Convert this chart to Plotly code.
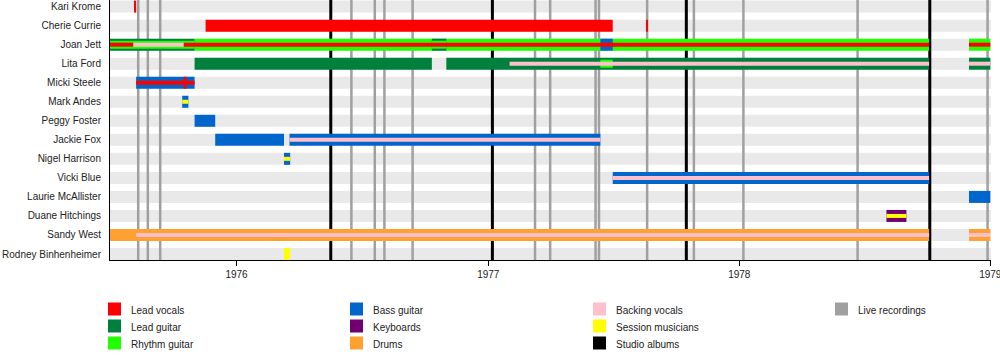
import pandas as pd
import plotly.graph_objects as go

# ---------------- data ----------------
members = ["Kari Krome", "Cherie Currie", "Joan Jett", "Lita Ford", "Micki Steele",
           "Mark Andes", "Peggy Foster", "Jackie Fox", "Nigel Harrison", "Vicki Blue",
           "Laurie McAllister", "Duane Hitchings", "Sandy West", "Rodney Binhenheimer"]

legend_columns = [
    ["Lead vocals", "Lead guitar", "Rhythm guitar"],
    ["Bass guitar", "Keyboards", "Drums"],
    ["Backing vocals", "Session musicians", "Studio albums"],
    ["Live recordings"],
]

# (member, role, start, end) - primary role bars
full_bars = [
    ("Kari Krome", "Lead vocals", "1975-08-06", "1975-08-08"),
    ("Cherie Currie", "Lead vocals", "1975-11-17", "1977-07-01"),
    ("Cherie Currie", "Lead vocals", "1977-08-19", "1977-08-21"),
    ("Joan Jett", "Lead guitar", "1975-07-01", "1975-11-01"),
    ("Joan Jett", "Rhythm guitar", "1975-11-01", "1978-10-04"),
    ("Joan Jett", "Lead guitar", "1976-10-11", "1976-11-01"),
    ("Joan Jett", "Bass guitar", "1977-06-13", "1977-07-01"),
    ("Joan Jett", "Rhythm guitar", "1978-12-01", "1979-01-01"),
    ("Lita Ford", "Lead guitar", "1975-11-01", "1976-10-11"),
    ("Lita Ford", "Lead guitar", "1976-11-01", "1978-10-04"),
    ("Lita Ford", "Lead guitar", "1978-12-01", "1979-01-01"),
    ("Micki Steele", "Bass guitar", "1975-08-08", "1975-11-01"),
    ("Micki Steele", "Lead vocals", "1975-10-16", "1975-10-20"),
    ("Mark Andes", "Bass guitar", "1975-10-14", "1975-10-23"),
    ("Peggy Foster", "Bass guitar", "1975-11-01", "1975-12-01"),
    ("Jackie Fox", "Bass guitar", "1975-12-01", "1976-03-10"),
    ("Jackie Fox", "Bass guitar", "1976-03-18", "1977-06-13"),
    ("Nigel Harrison", "Bass guitar", "1976-03-10", "1976-03-19"),
    ("Vicki Blue", "Bass guitar", "1977-07-01", "1978-10-04"),
    ("Laurie McAllister", "Bass guitar", "1978-12-01", "1979-01-01"),
    ("Duane Hitchings", "Keyboards", "1978-08-03", "1978-09-01"),
    ("Sandy West", "Drums", "1975-07-01", "1978-10-04"),
    ("Sandy West", "Drums", "1978-12-01", "1979-01-01"),
    ("Rodney Binhenheimer", "Session musicians", "1976-03-10", "1976-03-19"),
]

# secondary role bars
mid_bars = [
    ("Joan Jett", "Rhythm guitar", "1975-07-01", "1975-11-01"),
    ("Joan Jett", "Rhythm guitar", "1976-10-11", "1976-11-01"),
    ("Lita Ford", "Rhythm guitar", "1977-06-13", "1977-07-01"),
]

# tertiary role bars
centre_bars = [
    ("Joan Jett", "Lead vocals", "1975-07-01", "1975-08-04"),
    ("Joan Jett", "Backing vocals", "1975-08-04", "1975-10-16"),
    ("Joan Jett", "Lead vocals", "1975-10-16", "1978-10-04"),
    ("Joan Jett", "Lead vocals", "1978-12-01", "1979-01-01"),
    ("Lita Ford", "Backing vocals", "1977-02-01", "1978-10-04"),
    ("Lita Ford", "Backing vocals", "1978-12-01", "1979-01-01"),
    ("Micki Steele", "Lead vocals", "1975-08-08", "1975-11-01"),
    ("Mark Andes", "Session musicians", "1975-10-14", "1975-10-23"),
    ("Jackie Fox", "Backing vocals", "1976-03-18", "1977-06-13"),
    ("Nigel Harrison", "Session musicians", "1976-03-10", "1976-03-19"),
    ("Vicki Blue", "Backing vocals", "1977-07-01", "1978-10-04"),
    ("Duane Hitchings", "Session musicians", "1978-08-03", "1978-09-01"),
    ("Sandy West", "Backing vocals", "1975-08-08", "1978-10-04"),
    ("Sandy West", "Backing vocals", "1978-12-01", "1979-01-01"),
]

studio_albums = ["1976-05-17", "1977-01-07", "1977-10-16", "1978-10-05"]
live_recordings = ["1975-08-11", "1975-08-25", "1975-09-12", "1976-06-16", "1976-07-20",
                   "1976-08-03", "1976-09-13", "1977-03-10", "1977-04-01", "1977-06-06",
                   "1977-06-11", "1977-08-20", "1977-10-27", "1978-01-07", "1978-06-22",
                   "1978-12-28"]

year_ticks = ["1976-01-01", "1977-01-01", "1978-01-01", "1979-01-01"]
year_labels = ["1976", "1977", "1978", "1979"]
x_start, x_end = "1975-07-01", "1979-01-02"

# ---------------- style ----------------
colors = {
    "Lead vocals": "#FF0000", "Lead guitar": "#00803C", "Rhythm guitar": "#22FF00",
    "Bass guitar": "#0066CC", "Keyboards": "#700070", "Drums": "#FFA030",
    "Backing vocals": "#FFC0CB", "Session musicians": "#FFFF00",
    "Studio albums": "#000000", "Live recordings": "#A0A0A0",
}
role_order = ["Rhythm guitar", "Lead guitar", "Bass guitar", "Keyboards", "Drums",
              "Session musicians", "Lead vocals", "Backing vocals"]
FONT = "Liberation Sans, Arial, sans-serif"
FS = 10
W, H = 1000, 360
ML, MR, MT, MB = 110, 9, 0, 100
PW, PH = W - ML - MR, H - MT - MB
Y_TOP, Y_BOT = -0.347, 13.315
unit_px = PH / (Y_BOT - Y_TOP)

fig = go.Figure()

for tier_bars, px_h in ((full_bars, 12), (mid_bars, 8), (centre_bars, 4)):
    for role in role_order:
        rows = [b for b in tier_bars if b[1] == role]
        if not rows:
            continue
        ys = [members.index(r[0]) for r in rows]
        bases = [r[2] for r in rows]
        durs = [(pd.Timestamp(r[3]) - pd.Timestamp(r[2])).total_seconds() * 1000 for r in rows]
        fig.add_trace(go.Bar(
            y=ys, x=durs, base=bases, orientation="h", width=px_h / unit_px,
            marker=dict(color=colors[role], line=dict(width=0)),
            showlegend=False, hoverinfo="skip"))

# row background bands
for i, _ in enumerate(members):
    fig.add_shape(type="rect", xref="x domain", yref="y", x0=0, x1=1,
                  y0=i - 6 / unit_px, y1=i + 6 / unit_px,
                  fillcolor="#E9E9E9", line_width=0, layer="below")

for d in live_recordings:
    fig.add_shape(type="line", xref="x", yref="paper", x0=d, x1=d, y0=0, y1=1,
                  line=dict(color=colors["Live recordings"], width=2.5), layer="below")
for d in studio_albums:
    fig.add_shape(type="line", xref="x", yref="paper", x0=d, x1=d, y0=0, y1=1,
                  line=dict(color=colors["Studio albums"], width=3), layer="below")

# legend (drawn manually in a 4-column grid)
col_sq_x = [108, 350, 593, 835]
row_cy = [309, 326, 343]
def px2paper(xp, yp):
    return (xp - ML) / PW, (MT + PH - yp) / PH
for c, items in enumerate(legend_columns):
    for r, name in enumerate(items):
        x0, y0 = px2paper(col_sq_x[c], row_cy[r] - 6.5)
        x1, y1 = px2paper(col_sq_x[c] + 13, row_cy[r] + 6.5)
        fig.add_shape(type="rect", xref="paper", yref="paper", x0=x0, x1=x1, y0=y0, y1=y1,
                      fillcolor=colors[name], line_width=0)
        tx, ty = px2paper(col_sq_x[c] + 21, row_cy[r] + 1)
        fig.add_annotation(xref="paper", yref="paper", x=tx, y=ty, text=name,
                           showarrow=False, xanchor="left", yanchor="middle",
                           font=dict(size=FS, color="#222", family=FONT))

fig.update_layout(
    width=W, height=H, margin=dict(l=ML, r=MR, t=MT, b=MB, autoexpand=False),
    barmode="overlay", plot_bgcolor="white", paper_bgcolor="white",
    font=dict(family=FONT, size=FS, color="#222"),
    xaxis=dict(type="date", range=[x_start, x_end], tickvals=year_ticks, ticktext=year_labels,
               ticks="outside", ticklen=5, tickcolor="black", showline=True, linecolor="black",
               linewidth=1, showgrid=False, zeroline=False, tickfont=dict(size=FS),
               automargin=False, ticklabeloverflow="allow"),
    yaxis=dict(range=[Y_BOT, Y_TOP], tickvals=list(range(len(members))), ticktext=members,
               showline=True, linecolor="black", linewidth=1, showgrid=False, zeroline=False,
               ticks="", ticklabelstandoff=6, tickfont=dict(size=FS), automargin=False),
)

fig.write_html("out.html", config={"displayModeBar": False},
               post_script="document.body.style.margin='0';document.body.style.overflow='hidden';")
